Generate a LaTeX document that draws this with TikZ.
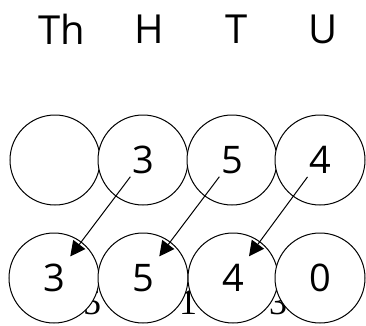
\documentclass[tikz,border=0pt]{standalone}
\usepackage{fontspec}
\setmainfont{Open Sans}
\newfontfamily\hiddenfont{Liberation Serif}
\usetikzlibrary{arrows.meta}
\tikzset{
  place/.style={circle, draw, line width=1pt, fill=white, minimum size=90pt, inner sep=0pt, font=\fontsize{38}{40}\selectfont},
  colhead/.style={font=\fontsize{40}{42}\selectfont},
  behind/.style={anchor=base, font=\hiddenfont\fontsize{36}{38}\selectfont},
  carry/.style={line width=1pt, -{Triangle[length=15pt,width=15pt]}, shorten <=21pt, shorten >=27pt}
}
\begin{document}
\begin{tikzpicture}[x=1pt,y=1pt]
\useasboundingbox (0,0) rectangle (366,325);
% column headings:
\node[colhead] (th) at (62,296) {Th};
\node[colhead] (hh) at (149,296) {H};
\node[colhead] (th2) at (237,296) {T};
\node[colhead] (uh) at (323,296) {U};
% text behind the lower row:
\node[behind] (x1) at (92,11) {5};
\node[behind] (x2) at (188,11) {1};
\node[behind] (x3) at (278,11) {3};
% upper row:
\node[place] (a1) at (55,165) {};
\node[place] (a2) at (143,165) {3};
\node[place] (a3) at (232,165) {5};
\node[place] (a4) at (320,165) {4};
% lower row:
\node[place] (b1) at (54,47) {3};
\node[place] (b2) at (143,47) {5};
\node[place] (b3) at (233,47) {4};
\node[place] (b4) at (320,47) {0};
% shifts:
\draw[carry] (a2.center) -- (b1.center);
\draw[carry] (a3.center) -- (b2.center);
\draw[carry] (a4.center) -- (b3.center);
\end{tikzpicture}
\end{document}
